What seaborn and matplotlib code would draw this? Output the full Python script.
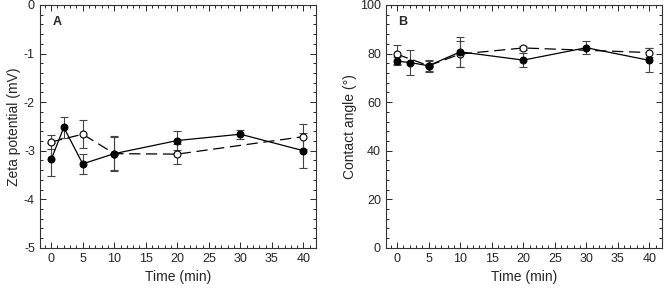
import numpy as np
import pandas as pd
import matplotlib
matplotlib.use('Agg')
import matplotlib.pyplot as plt
from matplotlib.ticker import MultipleLocator
import seaborn as sns

# Panel A - zeta potential
time_filled = [0, 2, 5, 10, 20, 30, 40]
zeta_filled = [-3.18, -2.52, -3.27, -3.06, -2.79, -2.66, -3.00]
zeta_filled_err = [0.33, 0.22, 0.20, 0.36, 0.20, 0.09, 0.36]
time_open = [0, 5, 10, 20, 40]
zeta_open = [-2.82, -2.66, -3.06, -3.07, -2.71]
zeta_open_err = [0.15, 0.29, 0.34, 0.21, 0.26]

# Panel B - contact angle
angle_filled = [76.9, 76.3, 75.0, 80.7, 77.3, 82.4, 77.2]
angle_filled_err = [1.6, 5.0, 2.0, 6.3, 3.0, 2.6, 4.9]
angle_open = [79.7, 75.0, 79.8, 82.3, 80.4]
angle_open_err = [4.0, 2.5, 5.5, 0.8, 2.0]

sns.set_style('ticks')
plt.rcParams['font.family'] = ['Liberation Sans', 'DejaVu Sans']
plt.rcParams['axes.unicode_minus'] = False

fig = plt.figure(figsize=(6.64, 2.92), dpi=100)
axA = fig.add_axes([0.060, 0.151, 0.416, 0.832])
axB = fig.add_axes([0.581, 0.151, 0.416, 0.832])


def panel(ax, yf, yf_err, yo, yo_err, ylim, major, minor, ylabel, letter):
    df_f = pd.DataFrame({'t': time_filled, 'v': yf})
    df_o = pd.DataFrame({'t': time_open, 'v': yo})
    ax.errorbar(time_filled, yf, yerr=yf_err, fmt='none', ecolor='#444444',
                elinewidth=0.8, capsize=3, capthick=0.8, zorder=2)
    ax.errorbar(time_open, yo, yerr=yo_err, fmt='none', ecolor='#444444',
                elinewidth=0.8, capsize=3, capthick=0.8, zorder=2)
    sns.lineplot(data=df_o, x='t', y='v', ax=ax, color='black', lw=0.9,
                 zorder=3, estimator=None)
    ax.lines[-1].set_dashes([9, 4.5])
    ax.plot(time_open, yo, 'o', mfc='white', mec='black', ms=5, mew=0.8, zorder=4)
    sns.lineplot(data=df_f, x='t', y='v', ax=ax, color='black', lw=0.9,
                 marker='o', markersize=5, markerfacecolor='black',
                 markeredgecolor='black', zorder=5, estimator=None)
    ax.set_xlim(-1.8, 42)
    ax.set_ylim(*ylim)
    ax.xaxis.set_major_locator(MultipleLocator(5))
    ax.xaxis.set_minor_locator(MultipleLocator(1))
    ax.yaxis.set_major_locator(MultipleLocator(major))
    ax.yaxis.set_minor_locator(MultipleLocator(minor))
    ax.tick_params(which='both', direction='in', top=True, right=True,
                   labelsize=9, width=0.7)
    ax.tick_params(which='major', length=4)
    ax.tick_params(which='minor', length=2)
    for s in ax.spines.values():
        s.set_linewidth(0.8)
        s.set_color('#333333')
    ax.set_xlabel('Time (min)', fontsize=10)
    ax.set_ylabel(ylabel, fontsize=10, labelpad=2)
    ax.text(0.045, 0.955, letter, transform=ax.transAxes, fontsize=9,
            fontweight='bold', va='top')


panel(axA, zeta_filled, zeta_filled_err, zeta_open, zeta_open_err,
      (-5, 0), 1, 0.2, 'Zeta potential (mV)', 'A')
panel(axB, angle_filled, angle_filled_err, angle_open, angle_open_err,
      (0, 100), 20, 4, 'Contact angle (°)', 'B')

fig.savefig('out.png', dpi=100)
